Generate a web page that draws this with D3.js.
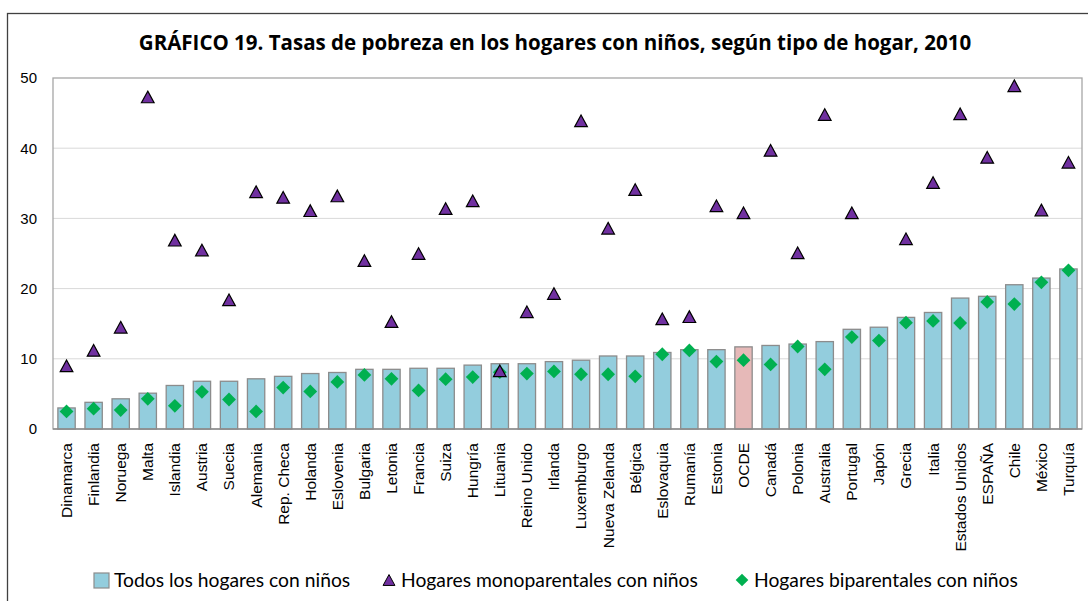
<!DOCTYPE html>
<html>
<head>
<meta charset="utf-8">
<script src="https://cdn.jsdelivr.net/npm/d3@7"></script>
<style>
  body { margin: 0; background: #fff; }
  svg { display: block; font-family: Lato, "Open Sans", sans-serif; }
</style>
</head>
<body>
<div id="chart"></div>
<script>
// values (percent)
var countries = ["Dinamarca", "Finlandia", "Noruega", "Malta", "Islandia", "Austria", "Suecia",
  "Alemania", "Rep. Checa", "Holanda", "Eslovenia", "Bulgaria", "Letonia", "Francia", "Suiza",
  "Hungría", "Lituania", "Reino Unido", "Irlanda", "Luxemburgo", "Nueva Zelanda", "Bélgica",
  "Eslovaquia", "Rumanía", "Estonia", "OCDE", "Canadá", "Polonia", "Australia", "Portugal",
  "Japón", "Grecia", "Italia", "Estados Unidos", "ESPAÑA", "Chile", "México", "Turquía"];

var todos = [3.0, 3.8, 4.3, 5.1, 6.2, 6.8, 6.8, 7.15, 7.5, 7.9, 8.05,
  8.5, 8.5, 8.65, 8.65, 9.1, 9.3, 9.3, 9.6, 9.8, 10.4, 10.4, 10.9, 11.3, 11.3,
  11.7, 11.9, 12.1, 12.45, 14.2, 14.5, 15.9, 16.6, 18.65, 18.9, 20.55, 21.5, 22.8];

var mono = [9.0, 11.2, 14.5, 47.3, 26.9, 25.5, 18.4, 33.8, 33.0, 31.1, 33.2,
  24.0, 15.3, 25.0, 31.4, 32.5, 8.3, 16.7, 19.3, 43.9, 28.6, 34.1, 15.7, 16.0, 31.8,
  30.8, 39.7, 25.1, 44.8, 30.8, null, 27.1, 35.1, 44.9, 38.7, 48.9, 31.2, 38.0];

var bi = [2.5, 2.9, 2.7, 4.3, 3.3, 5.3, 4.2, 2.5, 5.9, 5.35, 6.7,
  7.7, 7.15, 5.5, 7.1, 7.4, 8.1, 7.9, 8.2, 7.8, 7.8, 7.5, 10.65, 11.2, 9.6,
  9.8, 9.2, 11.75, 8.5, 13.1, 12.6, 15.15, 15.4, 15.1, 18.1, 17.8, 20.9, 22.6];

var yTicks = [0, 10, 20, 30, 40, 50];
var seriesNames = ["Todos los hogares con niños", "Hogares monoparentales con niños", "Hogares biparentales con niños"];
var highlight = "OCDE";

var width = 1088, height = 601;
var margin = {top: 78, right: 6, bottom: 172, left: 53};
var plotW = width - margin.left - margin.right,
    plotH = height - margin.top - margin.bottom;

var blue = "#93cddd", pink = "#e6b9b8", purple = "#7030a0", green = "#00b050";

// triangle centred on its bounding box, like the spreadsheet markers
var triangle = {
  draw: function(ctx, size) {
    var w = Math.sqrt(size), h = w * 0.92;
    ctx.moveTo(0, -h / 2);
    ctx.lineTo(w / 2, h / 2);
    ctx.lineTo(-w / 2, h / 2);
    ctx.closePath();
  }
};
var diamond = {
  draw: function(ctx, size) {
    var r = Math.sqrt(size) / 2;
    ctx.moveTo(0, -r);
    ctx.lineTo(r, 0);
    ctx.lineTo(0, r);
    ctx.lineTo(-r, 0);
    ctx.closePath();
  }
};

var svg = d3.select("#chart").append("svg")
  .attr("width", width)
  .attr("height", height);

// outer frame
svg.append("rect")
  .attr("x", 7.5).attr("y", 13.5)
  .attr("width", width + 10).attr("height", height + 10)
  .attr("fill", "none").attr("stroke", "#404040").attr("stroke-width", 1.3);

svg.append("text")
  .attr("x", 555).attr("y", 50)
  .attr("text-anchor", "middle")
  .attr("font-family", "'Open Sans', sans-serif")
  .attr("font-size", 20.5).attr("font-weight", "bold")
  .attr("fill", "#000")
  .text("GRÁFICO 19. Tasas de pobreza en los hogares con niños, según tipo de hogar, 2010");

var g = svg.append("g").attr("transform", "translate(" + margin.left + "," + margin.top + ")");

var x = d3.scaleBand()
  .domain(countries)
  .range([0, plotW])
  .paddingInner(0.36)
  .paddingOuter(0.18);

var y = d3.scaleLinear()
  .domain([0, 50])
  .range([plotH, 0]);

// gridlines
g.append("g")
  .selectAll("line")
  .data(yTicks.slice(1, -1))
  .enter().append("line")
    .attr("x1", 0).attr("x2", plotW)
    .attr("y1", function(d) { return y(d); })
    .attr("y2", function(d) { return y(d); })
    .attr("stroke", "#d9d9d9").attr("stroke-width", 1);

// plot frame
g.append("rect")
  .attr("width", plotW).attr("height", plotH)
  .attr("fill", "none").attr("stroke", "#a6a6a6").attr("stroke-width", 1.3);

var yAxis = g.append("g")
  .attr("transform", "translate(-16,0)")
  .call(d3.axisLeft(y).tickValues(yTicks).tickSize(0).tickPadding(0));
yAxis.select(".domain").remove();
yAxis.selectAll("text").attr("font-size", 15).attr("fill", "#000");

// bars
g.append("g")
  .selectAll("rect")
  .data(countries)
  .enter().append("rect")
    .attr("x", function(d) { return x(d); })
    .attr("width", x.bandwidth())
    .attr("y", function(d, i) { return y(todos[i]); })
    .attr("height", function(d, i) { return y(0) - y(todos[i]); })
    .attr("fill", function(d) { return d == highlight ? pink : blue; })
    .attr("stroke", "#8c8c8c").attr("stroke-width", 1.3);

// baseline
g.append("line")
  .attr("x1", 0).attr("x2", plotW)
  .attr("y1", y(0)).attr("y2", y(0))
  .attr("stroke", "#8c8c8c").attr("stroke-width", 1.5);

// biparental diamonds
g.append("g")
  .selectAll("path")
  .data(countries)
  .enter().append("path")
    .attr("d", d3.symbol().type(diamond).size(190))
    .attr("transform", function(d, i) {
      return "translate(" + (x(d) + x.bandwidth() / 2) + "," + y(bi[i]) + ")";
    })
    .attr("fill", green);

// monoparental triangles
g.append("g")
  .selectAll("path")
  .data(countries.filter(function(d, i) { return mono[i] != null; }))
  .enter().append("path")
    .attr("d", d3.symbol().type(triangle).size(160))
    .attr("transform", function(d) {
      return "translate(" + (x(d) + x.bandwidth() / 2) + "," + y(mono[countries.indexOf(d)]) + ")";
    })
    .attr("fill", purple)
    .attr("stroke", "#000").attr("stroke-width", 1.2);

// category labels
var xAxis = g.append("g")
  .attr("transform", "translate(0," + plotH + ")")
  .call(d3.axisBottom(x).tickSize(0).tickPadding(0));
xAxis.select(".domain").remove();
xAxis.selectAll("text")
  .attr("font-size", 15.5).attr("fill", "#000")
  .attr("text-anchor", "end")
  .attr("dy", "0.35em")
  .attr("transform", "translate(0,14) rotate(-90)");

// legend
var legend = svg.append("g").attr("transform", "translate(0,580)");

legend.append("rect")
  .attr("x", 94).attr("y", -7).attr("width", 15).attr("height", 15)
  .attr("fill", blue).attr("stroke", "#8c8c8c").attr("stroke-width", 1.2);
legend.append("text")
  .attr("x", 114).attr("y", 0).attr("dy", "0.35em")
  .attr("font-size", 19.3).text(seriesNames[0]);

legend.append("path")
  .attr("d", d3.symbol().type(triangle).size(140))
  .attr("transform", "translate(389,0)")
  .attr("fill", purple).attr("stroke", "#000").attr("stroke-width", 1);
legend.append("text")
  .attr("x", 401).attr("y", 0).attr("dy", "0.35em")
  .attr("font-size", 19.3).text(seriesNames[1]);

legend.append("path")
  .attr("d", d3.symbol().type(diamond).size(160))
  .attr("transform", "translate(742,0)")
  .attr("fill", green);
legend.append("text")
  .attr("x", 754).attr("y", 0).attr("dy", "0.35em")
  .attr("font-size", 19.3).text(seriesNames[2]);
</script>
</body>
</html>
